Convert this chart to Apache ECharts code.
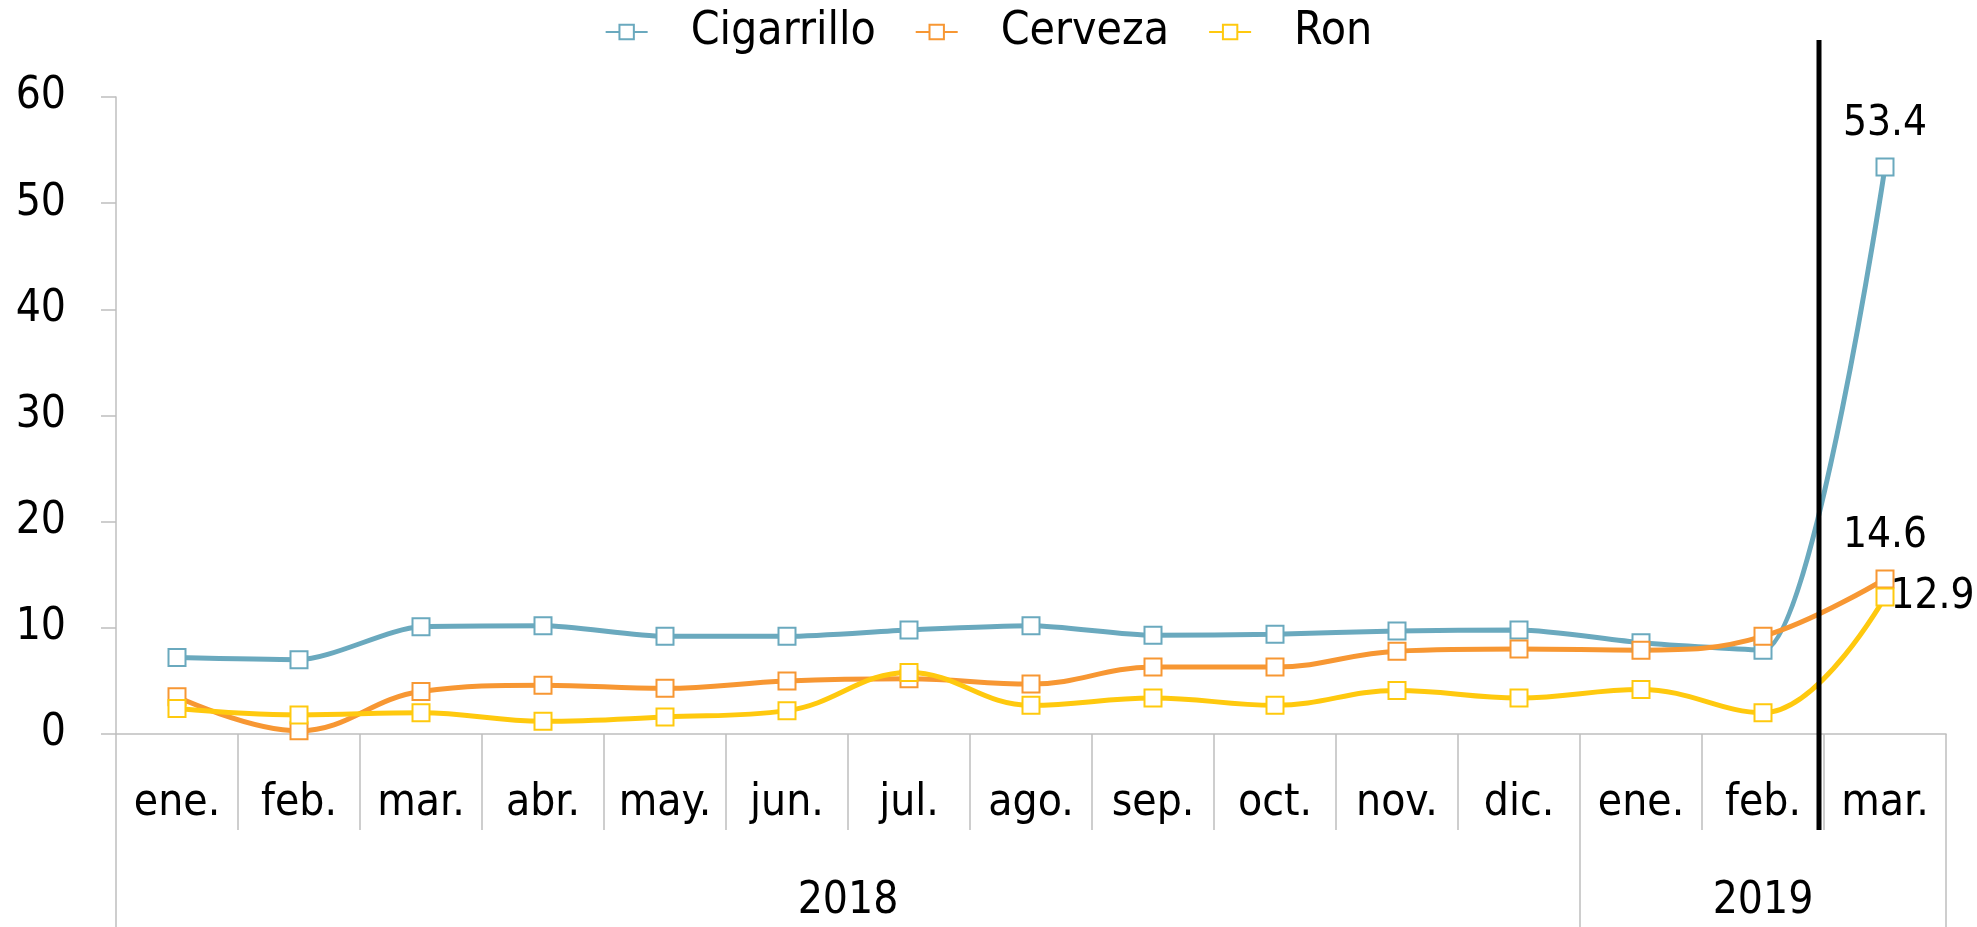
<!DOCTYPE html>
<html>
<head>
<meta charset="utf-8">
<script src="https://cdn.jsdelivr.net/npm/echarts@6/dist/echarts.min.js"></script>
<style>
  html, body { margin: 0; padding: 0; background: #fff; }
  #chart { width: 1977px; height: 927px; }
</style>
</head>
<body>
<div id="chart"></div>
<script>
// categorias (meses) y grupos por año
const months = ['ene.', 'feb.', 'mar.', 'abr.', 'may.', 'jun.', 'jul.', 'ago.', 'sep.', 'oct.', 'nov.', 'dic.', 'ene.', 'feb.', 'mar.']
const years = ['2018', '2019']
const yearSizes = [12, 3]

// series
const cigarrillo = [7.2, 7.0, 10.1, 10.2, 9.2, 9.2, 9.8, 10.2, 9.3, 9.4, 9.7, 9.8, 8.6, 7.9, 53.4]
const cerveza = [3.5, 0.3, 4.0, 4.6, 4.3, 5.0, 5.2, 4.7, 6.3, 6.3, 7.8, 8.0, 7.9, 9.2, 14.6]
const ron = [2.4, 1.8, 2.0, 1.2, 1.6, 2.2, 5.8, 2.7, 3.4, 2.7, 4.1, 3.4, 4.2, 2.0, 12.9]

const yTicks = [0, 10, 20, 30, 40, 50, 60]

const FONT = '"DejaVu Sans Condensed", "Liberation Sans Narrow", sans-serif'
const AXIS_GRAY = '#bfbfbf'

// limites y centros de los grupos de años
let yearBounds = [0]
let yearCenters = []
yearSizes.forEach((n, i) => {
  let start = yearBounds[yearBounds.length - 1]
  yearCenters.push(start + n / 2)
  yearBounds.push(start + n)
})

const chart = echarts.init(document.getElementById('chart'))

function makeSeries (name, data, color, labelPos, smooth) {
  const last = data.length - 1
  return {
    name: name,
    type: 'line',
    smooth: smooth,
    data: data,
    symbol: 'emptyRect',
    symbolSize: 17,
    showAllSymbol: true,
    color: color,
    lineStyle: { width: 5, color: color },
    itemStyle: { color: color, borderWidth: 2 },
    label: {
      show: true,
      position: labelPos,
      distance: labelPos === 'right' ? -4 : 12,
      fontFamily: FONT,
      fontSize: 42,
      color: '#000',
      formatter: p => p.dataIndex === last ? String(p.value) : ''
    },
    emphasis: { disabled: true }
  }
}

const option = {
  animation: false,
  backgroundColor: '#fff',
  legend: {
    top: 4,
    left: 'center',
    itemWidth: 42,
    itemHeight: 18,
    itemGap: 39,
    textStyle: {
      fontFamily: FONT,
      fontSize: 46,
      color: '#000',
      padding: [0, 0, 0, 38]
    },
    data: ['Cigarrillo', 'Cerveza', 'Ron']
  },
  grid: {
    left: 116,
    right: 31,
    top: 97,
    bottom: 193,
    containLabel: false
  },
  xAxis: [{
    type: 'category',
    data: months,
    boundaryGap: true,
    axisLine: { lineStyle: { color: AXIS_GRAY, width: 1.5 } },
    axisTick: { show: true, length: 96, alignWithLabel: false, lineStyle: { color: AXIS_GRAY, width: 1.5 } },
    axisLabel: {
      interval: 0,
      margin: 70,
      verticalAlign: 'middle',
      fontFamily: FONT,
      fontSize: 44,
      color: '#000'
    }
  }, {
    type: 'value',
    position: 'bottom',
    offset: 96,
    min: 0,
    max: yearBounds[yearBounds.length - 1],
    axisLine: { show: false },
    splitLine: { show: false },
    axisTick: {
      show: true,
      length: 97,
      customValues: yearBounds,
      lineStyle: { color: AXIS_GRAY, width: 1.5 }
    },
    axisLabel: {
      customValues: yearCenters,
      margin: 72,
      verticalAlign: 'middle',
      fontFamily: FONT,
      fontSize: 44,
      color: '#000',
      formatter: v => years[yearCenters.indexOf(v)] || ''
    }
  }],
  yAxis: {
    type: 'value',
    min: yTicks[0],
    max: yTicks[yTicks.length - 1],
    interval: 10,
    axisLine: { show: true, lineStyle: { color: AXIS_GRAY, width: 1.5 } },
    axisTick: { show: true, length: 15, lineStyle: { color: AXIS_GRAY, width: 1.5 } },
    splitLine: { show: false },
    axisLabel: {
      margin: 50,
      fontFamily: FONT,
      fontSize: 44,
      color: '#000'
    }
  },
  series: [
    makeSeries('Cigarrillo', cigarrillo, '#6aa9be', 'top', 0.25),
    makeSeries('Cerveza', cerveza, '#f79733', 'top', 0.4),
    makeSeries('Ron', ron, '#ffc90e', 'right', 0.4)
  ]
}

chart.setOption(option)

// linea vertical negra entre feb. y mar. 2019
const xa = chart.convertToPixel({ xAxisIndex: 0 }, 13)
const xb = chart.convertToPixel({ xAxisIndex: 0 }, 14)
const sepX = (xa + xb) / 2 - 5
const yBottom = chart.convertToPixel({ yAxisIndex: 0 }, 0) + 96
chart.setOption({
  graphic: [{
    type: 'line',
    shape: { x1: sepX, y1: 40, x2: sepX, y2: yBottom },
    style: { stroke: '#000', lineWidth: 5 },
    z: 100
  }]
})
</script>
</body>
</html>
